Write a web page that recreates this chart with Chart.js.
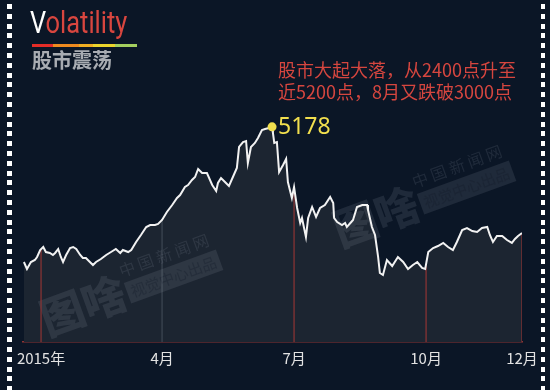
<!DOCTYPE html>
<html lang="zh">
<head>
<meta charset="utf-8">
<script src="https://cdn.jsdelivr.net/npm/chart.js@4.4.1/dist/chart.umd.min.js"></script>
<style>
  body { margin: 0; background: #0b1626; }
  #wrap { position: relative; width: 550px; height: 390px; overflow: hidden; font-family: "Noto Sans CJK SC", "Noto Sans", sans-serif; }
  #volChart { position: absolute; left: 0; top: 0; }
  .dots { position: absolute; top: 4px; width: 5px; height: 390px;
          background: repeating-linear-gradient(to bottom, #fff 0 5px, transparent 5px 9.8px); }
  .title { position: absolute; left: 30px; top: 4px; font-family: Roboto, "Noto Sans", sans-serif; font-size: 31px; line-height: 38px;
           color: #d8463f; transform: scaleX(0.82); transform-origin: left top; white-space: nowrap; }
  .title b { color: #fff; font-weight: 400; }
  .bar { position: absolute; left: 32px; top: 44px; width: 105px; height: 3px;
         background: linear-gradient(to right, #e42c27 0 20%, #ee8a1f 20% 45%, #efae22 45% 58%, #ead42c 58% 79%, #a4cf5f 79% 100%); }
  .sub { position: absolute; left: 32px; top: 48px; font-size: 20px; line-height: 24px; font-weight: 700; color: #a8acb2; letter-spacing: 0px; }
  .note { position: absolute; left: 278px; top: 58px; font-size: 18px; line-height: 22px; color: #d6463f; white-space: nowrap; }
</style>
</head>
<body>
<div id="wrap">
  <canvas id="volChart" width="550" height="390"></canvas>
  <div class="dots" style="left:7px"></div>
  <div class="dots" style="left:541px; width:4px"></div>
  <div class="title"><b>V</b>olatility</div>
  <div class="bar"></div>
  <div class="sub">股市震荡</div>
  <div class="note">股市大起大落，从2400点升至<br>近5200点，8月又跌破3000点</div>
</div>
<script>
// x: months since 1 Jan 2015, y: index level
const xMonths = [
  -0.14, -0.07, 0.02, 0.11, 0.16, 0.23, 0.30, 0.36, 0.45, 0.52, 0.57, 0.64, 0.70, 0.75, 0.82, 0.91,
  0.98, 1.05, 1.14, 1.20, 1.27, 1.36, 1.43, 1.50, 1.61, 1.73, 1.84, 1.95, 2.05, 2.11, 2.23, 2.30,
  2.41, 2.52, 2.64, 2.73, 2.84, 2.91, 3.00, 3.11, 3.23, 3.34, 3.41, 3.52, 3.59, 3.68, 3.75, 3.82,
  3.91, 4.02, 4.14, 4.23, 4.27, 4.34, 4.43, 4.52, 4.61, 4.70, 4.75, 4.84, 4.91, 4.95, 5.02, 5.11,
  5.18, 5.27, 5.34, 5.43, 5.50, 5.52, 5.55, 5.61, 5.66, 5.75, 5.82, 5.86, 5.95, 6.00, 6.07, 6.14,
  6.18, 6.27, 6.32, 6.41, 6.50, 6.59, 6.70, 6.82, 6.89, 6.91, 6.98, 7.09, 7.16, 7.20, 7.30, 7.34,
  7.43, 7.55, 7.66, 7.68, 7.77, 7.84, 7.91, 7.95, 8.02, 8.11, 8.23, 8.36, 8.48, 8.59, 8.70, 8.80,
  8.91, 8.98, 9.05, 9.16, 9.27, 9.39, 9.50, 9.61, 9.70, 9.82, 9.93, 10.05, 10.16, 10.27, 10.39, 10.45,
  10.52, 10.61, 10.73, 10.84, 10.95, 11.02, 11.09, 11.18
];
const indexValues = [
  3056, 2946, 3056, 3088, 3135, 3245, 3292, 3213, 3198, 3166, 3198, 3260, 3135, 3056, 3166, 3276,
  3292, 3260, 3166, 3119, 3119, 3056, 3009, 3056, 3103, 3166, 3213, 3260, 3198, 3245, 3213, 3245,
  3370, 3480, 3606, 3637, 3637, 3653, 3716, 3841, 3951, 4061, 4108, 4234, 4265, 4344, 4391, 4517,
  4454, 4454, 4265, 4171, 4297, 4375, 4312, 4250, 4391, 4532, 4862, 4940, 4956, 4611, 4862, 4925,
  5003, 5129, 5145, 5160, 5178, 5082, 4925, 4940, 4469, 4579, 4674, 4312, 4061, 4234, 3904, 3669,
  3747, 3449, 3747, 3920, 3763, 3904, 3951, 4077, 3983, 3747, 3684, 3637, 3669, 3606, 3684, 3716,
  3920, 3951, 3951, 3873, 3606, 3480, 3135, 2884, 2852, 3088, 2993, 3135, 3056, 2946, 3009, 3056,
  2962, 2946, 3213, 3276, 3307, 3355, 3292, 3245, 3370, 3559, 3590, 3543, 3527, 3590, 3606, 3480,
  3370, 3465, 3465, 3402, 3355, 3418, 3465, 3512
];
const tickPositions = [0.25, 3, 6, 9, 11.18];
const tickLabels = ['2015年', '4月', '7月', '10月', '12月'];
const dropColors = ['#8f3434', 'rgba(150,160,175,0.28)', '#8f3434', '#8f3434', '#8f3434'];

const points = xMonths.map((x, i) => ({ x: x, y: indexValues[i] }));

// level of the index at any month position (linear between points)
function levelAt(x) {
  for (let i = 1; i < xMonths.length; i++) {
    if (x <= xMonths[i]) {
      const t = (x - xMonths[i - 1]) / (xMonths[i] - xMonths[i - 1]);
      return indexValues[i - 1] + t * (indexValues[i] - indexValues[i - 1]);
    }
  }
  return indexValues[indexValues.length - 1];
}

const peakIdx = indexValues.indexOf(Math.max(...indexValues));

const dropLines = tickPositions.map((x, i) => ({
  data: [{ x: x, y: 1800 }, { x: x, y: levelAt(x) }],
  borderColor: dropColors[i],
  borderWidth: 1.2,
  pointRadius: 0,
  fill: false,
  order: 2
}));

const watermark = {
  id: 'watermark',
  beforeDatasetsDraw(chart) {
    const c = chart.ctx;
    [[127, 286], [420, 197]].forEach(([cx, cy]) => {
      c.save();
      c.translate(cx, cy);
      c.rotate(-20 * Math.PI / 180);
      c.fillStyle = 'rgba(170,180,195,0.13)';
      c.font = '900 44px "Noto Sans CJK SC"';
      c.textBaseline = 'alphabetic';
      c.fillText('图啥', -92, 20);
      c.font = '16px "Noto Sans CJK SC"';
      c.fillText('中 国 新 闻 网', -2, -10);
      c.fillRect(-2, -4, 98, 22);
      c.fillStyle = 'rgba(20,30,42,0.35)';
      c.font = '15px "Noto Sans CJK SC"';
      c.fillText('视觉中心出品', 2, 13);
      c.restore();
    });
  }
};

const peakLabel = {
  id: 'peakLabel',
  afterDatasetsDraw(chart) {
    const pt = chart.getDatasetMeta(1).data[0];
    const c = chart.ctx;
    c.save();
    c.fillStyle = '#f2df4e';
    c.font = '23px "Noto Sans", sans-serif';
    c.textBaseline = 'middle';
    c.fillText(String(indexValues[peakIdx]), pt.x + 6, pt.y + 1);
    c.restore();
  }
};

const ctx = document.getElementById('volChart');
new Chart(ctx, {
  type: 'line',
  data: {
    datasets: [{
      data: points,
      borderColor: '#f2f2f2',
      borderWidth: 2,
      tension: 0,
      pointRadius: 0,
      fill: 'start',
      backgroundColor: '#1c2531',
      order: 1
    }, {
      data: [points[peakIdx]],
      showLine: false,
      pointRadius: 4.5,
      pointBackgroundColor: '#f2df4e',
      pointBorderWidth: 0,
      order: 0
    }, ...dropLines]
  },
  options: {
    responsive: false,
    animation: false,
    layout: { padding: { left: 23, right: 28, top: 100, bottom: 0 } },
    plugins: {
      legend: { display: false },
      tooltip: { enabled: false },
      filler: { drawTime: 'beforeDatasetsDraw' }
    },
    scales: {
      x: {
        type: 'linear',
        min: -0.16,
        max: 11.18,
        afterBuildTicks: axis => { axis.ticks = tickPositions.map(v => ({ value: v })); },
        afterFit: axis => { axis.height = 48; },
        grid: { display: false, drawTicks: false },
        border: { color: '#8f3434', width: 1.5 },
        ticks: {
          autoSkip: false,
          maxRotation: 0,
          padding: 7,
          color: '#e2e2e2',
          font: { family: '"Noto Sans CJK SC", "Noto Sans", sans-serif', size: 15 },
          callback: (v, i) => tickLabels[i]
        }
      },
      y: { display: false, min: 1800, max: 5600 }
    }
  },
  plugins: [watermark, peakLabel]
});
</script>
</body>
</html>
